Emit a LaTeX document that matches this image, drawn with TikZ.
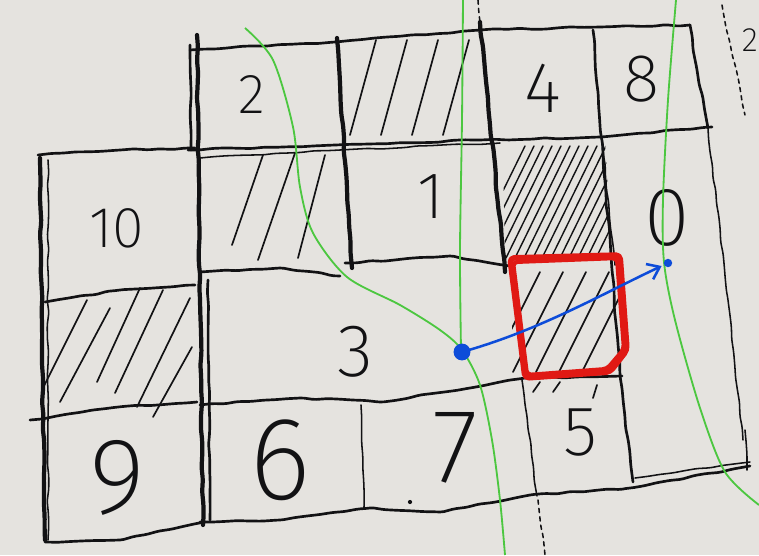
\documentclass[tikz,border=0pt]{standalone}
\usepackage{fontspec}
\setsansfont{Fira Sans ExtraLight}
\usepackage{tikz}
\usetikzlibrary{arrows.meta,decorations.pathmorphing}
\definecolor{myboard}{rgb}{0.9,0.89,0.875}
\definecolor{myink}{rgb}{0.07,0.07,0.08}
\definecolor{mygreen}{rgb}{0.3,0.78,0.25}
\definecolor{myblue}{rgb}{0.05,0.3,0.85}
\definecolor{myred}{rgb}{0.88,0.1,0.08}

\begin{document}
\begin{tikzpicture}[x=0.025cm,y=-0.025cm,
    pen/.style={myink,line width=1.9pt,line cap=round,line join=round,decorate,
      decoration={random steps,segment length=9pt,amplitude=.6pt},rounded corners=1.5pt},
    thinpen/.style={pen,line width=1.1pt},
    fatpen/.style={pen,line width=3pt},
    hatch/.style={myink,line width=1.2pt,line cap=round},
    greenpen/.style={mygreen,line width=1.3pt},
    digit/.style={inner sep=0pt,font=\sffamily,text=myink}]
  \pgfmathsetseed{7}
  \fill[myboard] (0,0) rectangle (759,555);
  \useasboundingbox (0,0) rectangle (759,555);

  \begin{scope}
    \clip (340,40) -- (480,30) -- (500,140) -- (345,145) -- cycle;
    \foreach \hx in {350,381,412,443} \draw[hatch] (\hx,135) -- ++(26,-95);
  \end{scope}
  \foreach \xa/\ya/\xb/\yb in {232/245/263/155,258/260/295/153,298/258/325/155,
      43/388/87/300,60/402/110/308,97/382/140/288,115/393/163/290,137/407/190/298,153/417/192/347,
      533/392/540/382,553/392/560/382,593/398/597/385}
    \draw[hatch] (\xa,\ya) -- (\xb,\yb);
  \begin{scope}
    \clip (503,145) -- (605,140) -- (612,265) -- (505,268) -- cycle;
    \foreach \hx in {470,479,...,600} \draw[hatch,line width=1pt] (\hx,258) -- ++(55,-112);
  \end{scope}
  \begin{scope}
    \clip (512,262) rectangle (624,376);
    \foreach \hx in {490,513,536,559,582} \draw[hatch] (\hx,372) -- ++(50,-100);
  \end{scope}

  \draw[pen] (190,50) -- (335,42) -- (480,30) -- (600,27) -- (690,25);
  \draw[pen] (690,25) -- (697,70) -- (708,128);
  \draw[pen] (188,150) -- (335,145) -- (480,140) -- (600,137) -- (712,127);
  \draw[thinpen] (200,158) -- (340,150) -- (500,143);
  \draw[pen] (38,155) -- (120,150) -- (195,148);
  \draw[fatpen] (40,158) -- (42,350) -- (45,540);
  \draw[thinpen] (48,160) -- (48,540);
  \draw[pen] (45,302) -- (120,290) -- (195,285);
  \draw[pen] (30,420) -- (110,408) -- (197,402);
  \draw[pen] (45,542) -- (120,540) -- (205,522);
  \draw[fatpen] (197,35) -- (200,300) -- (203,525);
  \draw[pen] (190,45) -- (191,150);
  \draw[pen] (208,280) -- (210,520);
  \draw[fatpen] (337,38) -- (352,268);
  \draw[fatpen] (480,22) -- (505,272);
  \draw[pen] (593,30) -- (612,270) -- (620,375) -- (633,482);
  \draw[thinpen] (602,140) -- (615,265);
  \draw[pen] (200,272) -- (280,268) -- (340,276);
  \draw[pen] (345,263) -- (450,256) -- (510,266);
  \draw[pen] (200,405) -- (300,398) -- (380,402) -- (470,388) -- (525,378) -- (622,376);
  \draw[pen] (200,522) -- (280,520) -- (370,508) -- (440,512) -- (530,495) -- (630,488) -- (750,466);
  \draw[thinpen] (635,478) -- (750,462);
  \draw[thinpen] (361,405) -- (364,508);
  \draw[thinpen] (522,380) -- (537,496);
  \draw[thinpen,dashed] (538,500) -- (545,555);
  \draw[thinpen,dashed] (478,0) -- (480,22);
  \draw[thinpen] (708,128) -- (728,300) -- (743,440);
  \draw[thinpen] (745,430) -- (747,470);
  \draw[thinpen,dashed] (722,5) -- (745,115);
  \node[digit,anchor=east] (nedge) at (758,40) {\fontsize{24}{24}\selectfont 2};
  \fill[myink] (410,502) circle[radius=1.5pt];

  \foreach \tx/\ty/\ts/\tl in {252/95/40/2,117/228/41/10,543/88/51/4,641/79/48/8,
      431/197/47/1,667/218/59/0,355/352/53/3,117/478/77/9,280/460/84/6,455/448/75/7,580/433/50/5}
    \node[digit] (n\tl) at (\tx,\ty) {\fontsize{\ts}{\ts}\selectfont \tl};

  \draw[greenpen] plot[smooth] coordinates {(245,28) (273,60) (293,127) (300,187) (313,233)
    (347,277) (400,305) (440,330) (462,350) (480,385) (492,440) (500,500) (505,555)};
  \draw[greenpen] plot[smooth] coordinates {(463,0) (462,120) (460,250) (461,350)};
  \draw[greenpen] plot[smooth] coordinates {(676,0) (668,100) (663,200) (664,262)
    (675,320) (700,408) (725,472) (759,505)};

  \draw[myred,line width=4pt,line join=round,rounded corners=3pt]
    (510,258) -- (620,255) -- (627,350) -- (610,372) -- (525,378) -- cycle;
  \draw[myred,line width=3pt,line join=round,rounded corners=3pt]
    (513,262) -- (617,258) -- (624,349) -- (607,369) -- (527,375) -- cycle;

  \coordinate (pfrom) at (462,352);
  \coordinate (pto) at (668,263);
  \fill[myblue] (pfrom) circle[radius=6pt];
  \fill[myblue] (pto) circle[radius=3pt];
  \draw[myblue,line width=1.8pt,shorten >=5pt,-{Straight Barb[length=8pt,width=12pt]}]
    (pfrom) .. controls (540,330) and (600,295) .. (pto);
\end{tikzpicture}
\end{document}
